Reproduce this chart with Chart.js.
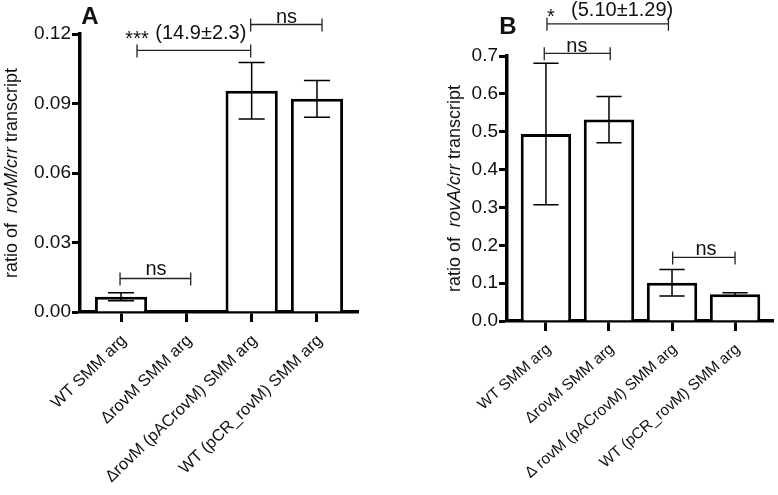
<!DOCTYPE html>
<html><head><meta charset="utf-8">
<script src="https://cdn.jsdelivr.net/npm/chart.js@4/dist/chart.umd.min.js"></script>
<style>
html,body{margin:0;padding:0;background:#fff;}
#wrap{position:relative;width:778px;height:495px;overflow:hidden;}
canvas{position:absolute;top:0;}
</style></head><body>
<div id="wrap">
<canvas id="cA" width="390" height="495" style="left:0px"></canvas>
<canvas id="cB" width="388" height="495" style="left:390px"></canvas>
</div>
<script>
// ---------- data ----------
const categoriesA = ['WT SMM arg', 'ΔrovM SMM arg', 'ΔrovM (pACrovM) SMM arg', 'WT (pCR_rovM) SMM arg'];
const valuesA = [0.0066, 0, 0.0955, 0.092];
const errorsA = [0.0017, 0, 0.0122, 0.0079];
const yTicksA = [0, 0.03, 0.06, 0.09, 0.12];

const categoriesB = ['WT SMM arg', 'ΔrovM SMM arg', 'Δ rovM (pACrovM) SMM arg', 'WT (pCR_rovM) SMM arg'];
const valuesB = [0.494, 0.532, 0.101, 0.0706];
const errorsB = [0.187, 0.061, 0.035, 0.004];
const yTicksB = [0, 0.1, 0.2, 0.3, 0.4, 0.5, 0.6, 0.7];

// significance brackets (x in category units, y in data units)
const bracketsA = [
  {from: 0.245, to: 1.985, y: 0.1129},
  {from: 1.985, to: 3.077, y: 0.1241},
  {from: -0.015, to: 1.067, y: 0.01445}
];
const bracketTextsA = [
  {x: 0.245, y: 0.1151, text: '***'},
  {x: 1.222, y: 0.1178, text: '(14.9±2.3)'},
  {x: 2.533, y: 0.1247, text: 'ns'},
  {x: 0.536, y: 0.0161, text: 'ns'}
];
const bracketsB = [
  {from: 0.016, to: 1.943, y: 0.785},
  {from: -0.027, to: 1.02, y: 0.707},
  {from: 2.01, to: 3.0, y: 0.168}
];
const bracketTextsB = [
  {x: 0.08, y: 0.786, text: '*'},
  {x: 1.209, y: 0.806, text: '(5.10±1.29)'},
  {x: 0.49, y: 0.7116, text: 'ns'},
  {x: 2.54, y: 0.1738, text: 'ns'}
];

// ---------- styling ----------
const FONT = '"Liberation Sans", Arial, sans-serif';

function annotPlugin(cfg) {
  return {
    id: 'annot' + cfg.letter,
    afterDatasetsDraw(chart) {
      const ctx = chart.ctx, x = chart.scales.x, y = chart.scales.y;
      const meta = chart.getDatasetMeta(0);
      ctx.save();
      ctx.strokeStyle = '#000';
      ctx.lineWidth = 1.5;
      cfg.values.forEach((v, i) => {
        const e = cfg.errors[i];
        if (!e) return;
        const px = x.getPixelForValue(i);
        const half = meta.data[i].width / 4;
        const yt = y.getPixelForValue(v + e), yb = y.getPixelForValue(v - e);
        ctx.beginPath();
        ctx.moveTo(px, yt); ctx.lineTo(px, yb);
        ctx.moveTo(px - half, yt); ctx.lineTo(px + half, yt);
        ctx.moveTo(px - half, yb); ctx.lineTo(px + half, yb);
        ctx.stroke();
      });
      // brackets
      ctx.strokeStyle = '#222';
      ctx.lineWidth = 1.3;
      cfg.brackets.forEach(b => {
        const x1 = x.getPixelForValue(b.from), x2 = x.getPixelForValue(b.to);
        const py = y.getPixelForValue(b.y);
        ctx.beginPath();
        ctx.moveTo(x1, py); ctx.lineTo(x2, py);
        ctx.moveTo(x1, py - 6); ctx.lineTo(x1, py + 7);
        ctx.moveTo(x2, py - 6); ctx.lineTo(x2, py + 7);
        ctx.stroke();
      });
      ctx.fillStyle = '#111';
      ctx.font = '20px ' + FONT;
      ctx.textAlign = 'center';
      ctx.textBaseline = 'alphabetic';
      cfg.texts.forEach(t => {
        ctx.fillText(t.text, x.getPixelForValue(t.x), y.getPixelForValue(t.y));
      });
      ctx.restore();
    },
    afterDraw(chart) {
      const ctx = chart.ctx, area = chart.chartArea;
      ctx.save();
      // panel letter
      ctx.fillStyle = '#111';
      ctx.font = 'bold 24px ' + FONT;
      ctx.textAlign = 'center';
      ctx.textBaseline = 'middle';
      ctx.fillText(cfg.letter, cfg.letterX, cfg.letterY);
      // y-axis title with italic part
      const size = 18;
      const parts = [['ratio of  ', false], [cfg.gene + '/crr', true], [' transcript', false]];
      let total = 0;
      parts.forEach(p => { ctx.font = (p[1] ? 'italic ' : '') + size + 'px ' + FONT; total += ctx.measureText(p[0]).width; });
      ctx.translate(cfg.titleX, (area.top + area.bottom) / 2);
      ctx.rotate(-Math.PI / 2);
      ctx.textAlign = 'left';
      let xx = -total / 2;
      parts.forEach(p => {
        ctx.font = (p[1] ? 'italic ' : '') + size + 'px ' + FONT;
        ctx.fillText(p[0], xx, 0);
        xx += ctx.measureText(p[0]).width;
      });
      ctx.restore();
    }
  };
}

function makeChart(id, cfg) {
  return new Chart(document.getElementById(id), {
    type: 'bar',
    data: {
      datasets: [{
        data: cfg.values.map((v, i) => ({x: i, y: v})),
        backgroundColor: '#fff',
        borderColor: '#000',
        borderWidth: 3,
        barPercentage: 0.8,
        categoryPercentage: 1.0
      }]
    },
    options: {
      responsive: false,
      animation: false,
      layout: {padding: {left: 0, right: cfg.padRight, top: cfg.padTop, bottom: 0}},
      plugins: {legend: {display: false}, tooltip: {enabled: false}},
      scales: {
        x: {
          type: 'linear',
          offset: false,
          bounds: 'data',
          min: cfg.xMin, max: cfg.xMax,
          afterBuildTicks: s => { s.ticks = cfg.categories.map((_, i) => ({value: i})); },
          ticks: {
            callback: v => cfg.categories[v],
            minRotation: cfg.rot, maxRotation: cfg.rot, autoSkip: false,
            font: {family: FONT, size: cfg.xFont}, color: '#111', padding: 9, labelOffset: 3
          },
          grid: {offset: false, drawOnChartArea: false, tickLength: 10, tickWidth: 3, color: '#000'},
          border: {display: true, color: '#000', width: 3.5},
          afterFit: s => { s.height = cfg.xHeight; }
        },
        y: {
          min: 0, max: cfg.yTicks[cfg.yTicks.length - 1],
          afterBuildTicks: s => { s.ticks = cfg.yTicks.map(v => ({value: v})); },
          ticks: {
            callback: v => v.toFixed(cfg.decimals),
            font: {family: FONT, size: 19}, color: '#111', padding: 1
          },
          grid: {drawOnChartArea: false, tickLength: 8, tickWidth: 3, color: '#000'},
          border: {display: true, color: '#000', width: 3.5},
          afterFit: s => { s.width = cfg.yWidth; }
        }
      }
    },
    plugins: [annotPlugin(cfg)]
  });
}

makeChart('cA', {
  letter: 'A', letterX: 90, letterY: 17, gene: 'rovM', titleX: 12,
  categories: categoriesA, values: valuesA, errors: errorsA, yTicks: yTicksA, decimals: 2,
  brackets: bracketsA, texts: bracketTextsA, rot: 44, xFont: 16.5,
  xMin: -0.628, xMax: 3.628, padRight: 32, padTop: 34, xHeight: 183, yWidth: 80
});
makeChart('cB', {
  letter: 'B', letterX: 118, letterY: 27, gene: 'rovA', titleX: 65,
  categories: categoriesB, values: valuesB, errors: errorsB, yTicks: yTicksB, decimals: 1,
  brackets: bracketsB, texts: bracketTextsB, rot: 41, xFont: 15.5,
  xMin: -0.618, xMax: 3.602, padRight: 5, padTop: 56, xHeight: 174, yWidth: 117
});
</script>
</body></html>
